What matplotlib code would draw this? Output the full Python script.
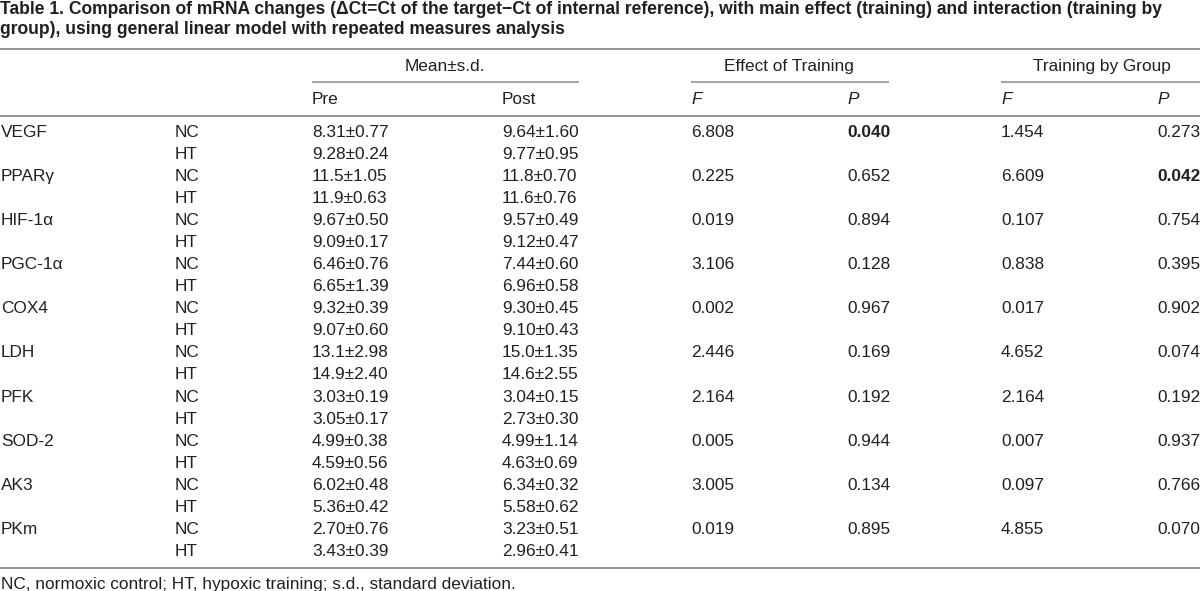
import matplotlib
matplotlib.use("Agg")
import matplotlib.pyplot as plt

# table contents
title_lines = [
    "Table 1. Comparison of mRNA changes (\u0394Ct=Ct of the target\u2212Ct of internal reference), with main effect (training) and interaction (training by",
    "group), using general linear model with repeated measures analysis",
]
genes = ["VEGF", "PPAR\u03b3", "HIF-1\u03b1", "PGC-1\u03b1", "COX4", "LDH", "PFK", "SOD-2", "AK3", "PKm"]
groups = ["NC", "HT"]

pre_nc_mean = [8.31, 11.5, 9.67, 6.46, 9.32, 13.1, 3.03, 4.99, 6.02, 2.70]
pre_nc_sd = [0.77, 1.05, 0.50, 0.76, 0.39, 2.98, 0.19, 0.38, 0.48, 0.76]
post_nc_mean = [9.64, 11.8, 9.57, 7.44, 9.30, 15.0, 3.04, 4.99, 6.34, 3.23]
post_nc_sd = [1.60, 0.70, 0.49, 0.60, 0.45, 1.35, 0.15, 1.14, 0.32, 0.51]
pre_ht_mean = [9.28, 11.9, 9.09, 6.65, 9.07, 14.9, 3.05, 4.59, 5.36, 3.43]
pre_ht_sd = [0.24, 0.63, 0.17, 1.39, 0.60, 2.40, 0.17, 0.56, 0.42, 0.39]
post_ht_mean = [9.77, 11.6, 9.12, 6.96, 9.10, 14.6, 2.73, 4.63, 5.58, 2.96]
post_ht_sd = [0.95, 0.76, 0.47, 0.58, 0.43, 2.55, 0.30, 0.69, 0.62, 0.41]

train_f = [6.808, 0.225, 0.019, 3.106, 0.002, 2.446, 2.164, 0.005, 3.005, 0.019]
train_p = [0.040, 0.652, 0.894, 0.128, 0.967, 0.169, 0.192, 0.944, 0.134, 0.895]
group_f = [1.454, 6.609, 0.107, 0.838, 0.017, 4.652, 2.164, 0.007, 0.097, 4.855]
group_p = [0.273, 0.042, 0.754, 0.395, 0.902, 0.074, 0.192, 0.937, 0.766, 0.070]

footnote = "NC, normoxic control; HT, hypoxic training; s.d., standard deviation."

plt.rcParams["font.family"] = ["Liberation Sans", "DejaVu Sans"]
ink = "#231f20"
rule = "#8a8a8a"
fs = 12.4
tfs = 12.62

fig = plt.figure(figsize=(12, 5.91), dpi=100)
ax = fig.add_axes([0, 0, 1, 1])
ax.set_xlim(0, 1200)
ax.set_ylim(591, 0)
ax.axis("off")

# title
ax.text(0, 14.5, title_lines[0], fontsize=tfs, fontweight="bold", color=ink, va="baseline")
ax.text(0, 34.5, title_lines[1], fontsize=tfs, fontweight="bold", color=ink, va="baseline")

# rules
ax.hlines([49.3, 116, 567.7], 0, 1200, color=rule, lw=1.3)
ax.hlines(82.3, 311.7, 579, color=rule, lw=1.1)
ax.hlines(82.3, 690.7, 889, color=rule, lw=1.1)
ax.hlines(82.3, 1000.7, 1200, color=rule, lw=1.1)

# header
ax.text(444.5, 71, "Mean\u00b1s.d.", fontsize=fs, color=ink, ha="center", va="baseline")
ax.text(789, 71, "Effect of Training", fontsize=fs, color=ink, ha="center", va="baseline")
ax.text(1101.5, 71, "Training by Group", fontsize=fs, color=ink, ha="center", va="baseline")
ax.text(312, 104, "Pre", fontsize=fs, color=ink, va="baseline")
ax.text(502, 104, "Post", fontsize=fs, color=ink, va="baseline")
for x, lab in [(691, "F"), (847, "P"), (1001, "F"), (1157, "P")]:
    ax.text(x, 104, lab, fontsize=fs, color=ink, va="baseline", style="italic")

x_gene, x_grp, x_pre, x_post = 1, 175, 312, 502
x_tf, x_tp, x_gf, x_gp = 691, 847, 1001, 1157
y0, dy = 136.7, 22.07


def ms(m, s):
    return "%s\u00b1%.2f" % (format(m, "#.3g"), s)


for i, g in enumerate(genes):
    yn = y0 + dy * 2 * i
    yh = yn + dy
    ax.text(x_gene, yn, g, fontsize=fs, color=ink, va="baseline")
    ax.text(x_grp, yn, groups[0], fontsize=fs, color=ink, va="baseline")
    ax.text(x_grp, yh, groups[1], fontsize=fs, color=ink, va="baseline")
    ax.text(x_pre, yn, ms(pre_nc_mean[i], pre_nc_sd[i]), fontsize=fs, color=ink, va="baseline")
    ax.text(x_post, yn, ms(post_nc_mean[i], post_nc_sd[i]), fontsize=fs, color=ink, va="baseline")
    ax.text(x_pre, yh, ms(pre_ht_mean[i], pre_ht_sd[i]), fontsize=fs, color=ink, va="baseline")
    ax.text(x_post, yh, ms(post_ht_mean[i], post_ht_sd[i]), fontsize=fs, color=ink, va="baseline")
    ax.text(x_tf, yn, "%.3f" % train_f[i], fontsize=fs, color=ink, va="baseline")
    ax.text(x_tp, yn, "%.3f" % train_p[i], fontsize=fs, color=ink, va="baseline",
            fontweight="bold" if train_p[i] < 0.05 else "normal")
    ax.text(x_gf, yn, "%.3f" % group_f[i], fontsize=fs, color=ink, va="baseline")
    ax.text(x_gp, yn, "%.3f" % group_p[i], fontsize=fs, color=ink, va="baseline",
            fontweight="bold" if group_p[i] < 0.05 else "normal")

ax.text(1, 589, footnote, fontsize=fs, color=ink, va="baseline")

fig.savefig("out.png", dpi=100)
